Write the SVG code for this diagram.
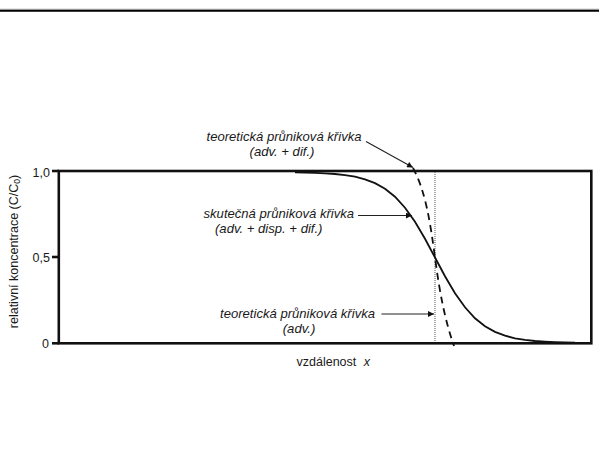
<svg xmlns="http://www.w3.org/2000/svg" width="599" height="461" viewBox="0 0 599 461">
<defs>
<style>
text{font-family:"Liberation Sans",Arial,sans-serif;fill:#1a1a1a;}
.lbl{font-size:13.1px;font-style:italic;}
.tick{font-size:12.5px;}
.ax{stroke:#111;stroke-width:2.6;fill:none;}
.arr{stroke:#222;stroke-width:1.1;fill:none;marker-end:url(#ah);}
</style>
<marker id="ah" viewBox="0 0 10 10" refX="10" refY="5" markerWidth="7" markerHeight="6" markerUnits="userSpaceOnUse" orient="auto">
<path d="M0,0 L10,5 L0,10 z" fill="#111"/>
</marker>
</defs>
<rect width="599" height="461" fill="#fff"/>
<g id="topline">
<line x1="0" y1="9.2" x2="599" y2="9.2" stroke="#999" stroke-width="0.8"/>
<line x1="0" y1="10.8" x2="599" y2="10.8" stroke="#000" stroke-width="2"/>
</g>
<g id="axes">
<rect class="ax" x="58.8" y="171" width="532.5" height="172.3"/>
<line class="ax" x1="52" y1="171" x2="59" y2="171"/>
<line class="ax" x1="52" y1="257" x2="59" y2="257"/>
<line class="ax" x1="52" y1="343.3" x2="59" y2="343.3"/>
<text class="tick" x="50" y="176.5" text-anchor="end">1,0</text>
<text class="tick" x="50" y="261.5" text-anchor="end">0,5</text>
<text class="tick" x="49" y="347.5" text-anchor="end">0</text>
<text class="tick" x="296.5" y="366">vzdálenost <tspan font-style="italic" dx="4">x</tspan></text>
<text class="tick" font-size="13.4" transform="translate(18,251.5) rotate(-90)" text-anchor="middle">relativní koncentrace (C/C<tspan font-size="8.5" dy="2">0</tspan><tspan dy="-2">)</tspan></text>
</g>
<g id="dotted-line">
<line x1="435" y1="172" x2="435" y2="342" stroke="#555" stroke-width="1" stroke-dasharray="1,1"/>
</g>
<g id="curve-real">
<polyline fill="none" stroke="#111" stroke-width="1.8" points="295,172.3 305,172.5 315,172.8 325,173.3 335,174.0 345,175.1 355,176.7 365,179.3 375,183.1 385,188.7 395,196.7 405,207.7 415,221.8 425,238.8 435,257.5 445,276.2 455,293.2 465,307.3 475,318.3 485,326.3 495,331.9 505,335.7 515,338.3 525,339.9 535,341.0 545,341.7 555,342.2 565,342.5 575,342.7"/>
</g>
<g id="curve-theor">
<path fill="none" stroke="#111" stroke-width="1.8" stroke-dasharray="7,5" d="M413,168 C425,190 430,220 435,257.5 C440,295 445,320 454,346"/>
</g>
<g id="labels">
<text class="lbl" x="206.5" y="140.5">teoretická průniková křivka</text>
<text class="lbl" x="282" y="156" text-anchor="middle">(adv. + dif.)</text>
<text class="lbl" x="203.5" y="218">skutečná průniková křivka</text>
<text class="lbl" x="215" y="233">(adv. + disp. + dif.)</text>
<text class="lbl" x="220" y="318">teoretická průniková křivka</text>
<text class="lbl" x="299" y="333" text-anchor="middle">(adv.)</text>
</g>
<g id="connectors">
<path class="arr" d="M366,141.5 L413,167.5"/>
<path class="arr" d="M358,215.5 L412,215.5"/>
<path class="arr" d="M381.5,314 L434,314"/>
</g>
</svg>
